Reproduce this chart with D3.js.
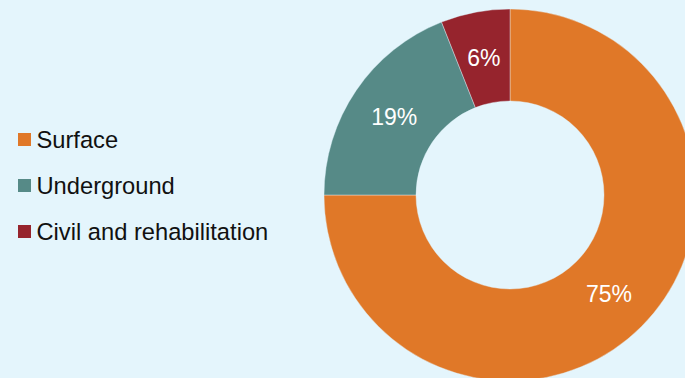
<!DOCTYPE html>
<html>
<head>
<meta charset="utf-8">
<script src="https://cdn.jsdelivr.net/npm/d3@7"></script>
<style>
  html, body { margin: 0; padding: 0; background: #e4f5fc; overflow: hidden; }
  svg { display: block; }
</style>
</head>
<body>
<svg id="chart" width="685" height="378"></svg>
<script>
// Share of work by category (percent)
const categories = ["Surface", "Underground", "Civil and rehabilitation"];
const shares = [75, 19, 6];
const sliceColors = ["#e07828", "#568a87", "#96242d"];

const W = 685, H = 378;
const svg = d3.select("#chart");
svg.append("rect").attr("width", W).attr("height", H).attr("fill", "#e4f5fc");

const cx = 510, cy = 195, rOuter = 186, rInner = 94;

const data = categories.map((c, i) => ({ name: c, value: shares[i] }));
const color = d3.scaleOrdinal().domain(categories).range(sliceColors);

const pie = d3.pie().value(d => d.value).sort(null);
const arc = d3.arc().innerRadius(rInner).outerRadius(rOuter);
const labelArc = d3.arc().innerRadius(140).outerRadius(140);

const g = svg.append("g").attr("transform", `translate(${cx},${cy})`);
const arcs = pie(data);

g.selectAll("path.slice")
  .data(arcs)
  .join("path")
  .attr("class", "slice")
  .attr("d", arc)
  .attr("fill", d => color(d.data.name))
  .attr("stroke", "#e4f5fc")
  .attr("stroke-width", 0.4);

g.selectAll("text.pct")
  .data(arcs)
  .join("text")
  .attr("class", "pct")
  .attr("transform", d => `translate(${labelArc.centroid(d)})`)
  .attr("text-anchor", "middle")
  .attr("dy", "0.36em")
  .attr("fill", "#ffffff")
  .style("font-family", "'Liberation Sans', Arial, sans-serif")
  .style("font-size", "23px")
  .text(d => d.data.value + "%");

// Legend
const legend = svg.append("g").attr("transform", "translate(18,148)");
const items = legend.selectAll("g.item")
  .data(categories)
  .join("g")
  .attr("class", "item")
  .attr("transform", (d, i) => `translate(0,${i * 46})`);

items.append("rect")
  .attr("x", 0).attr("y", -15)
  .attr("width", 13).attr("height", 13)
  .attr("fill", d => color(d));

items.append("text")
  .attr("x", 18.5).attr("y", 0)
  .attr("fill", "#111111")
  .style("font-family", "'Liberation Sans', Arial, sans-serif")
  .style("font-size", "23.7px")
  .text(d => d);
</script>
</body>
</html>
